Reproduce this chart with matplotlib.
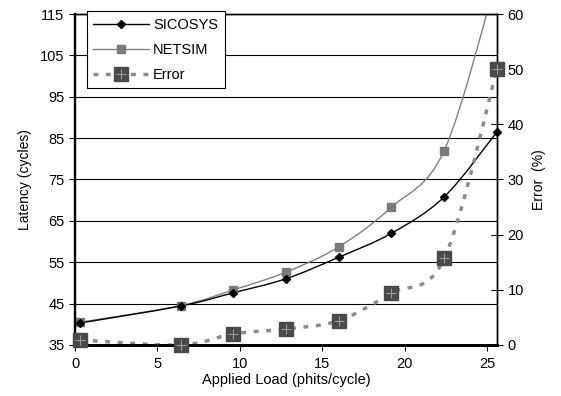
import numpy as np
import matplotlib.pyplot as plt
from matplotlib.path import Path
from matplotlib.patches import PathPatch
from matplotlib.lines import Line2D

plt.rcParams['font.family'] = ['Liberation Sans', 'DejaVu Sans']

# Data
load = [0.32, 6.4, 9.6, 12.8, 16.0, 19.2, 22.4, 25.6]
sicosys = [40.3, 44.4, 47.6, 51.0, 56.2, 62.0, 70.8, 86.5]
netsim = [40.5, 44.5, 48.3, 52.6, 58.7, 68.3, 82.0, 124.0]
error = [0.9, 0.0, 2.0, 2.9, 4.4, 9.4, 15.7, 50.0]

left_ticks = [35, 45, 55, 65, 75, 85, 95, 105, 115]
right_ticks = [0, 10, 20, 30, 40, 50, 60]
x_ticks = [0, 5, 10, 15, 20, 25]


def smooth_path(x, y):
    # smoothed line like a spreadsheet chart: cubic Bezier through the points
    pts = np.column_stack([x, y])
    n = len(pts)
    verts = [pts[0]]
    codes = [Path.MOVETO]
    for i in range(n - 1):
        p0 = pts[max(i - 1, 0)]
        p1 = pts[i]
        p2 = pts[i + 1]
        p3 = pts[min(i + 2, n - 1)]
        verts += [p1 + (p2 - p0) / 6, p2 - (p3 - p1) / 6, p2]
        codes += [Path.CURVE4] * 3
    return Path(verts, codes)


fig = plt.figure(figsize=(5.61, 3.96), dpi=100)
ax = fig.add_axes([0.1337, 0.129, 0.7522, 0.8356])
ax2 = ax.twinx()

ax.set_xlim(0, 25.6)
ax.set_ylim(35, 115)
ax2.set_ylim(0, 60)

ax.set_yticks(left_ticks)
ax2.set_yticks(right_ticks)
ax.set_xticks(x_ticks)
ax.grid(axis='y', color='black', lw=0.8)
ax.set_axisbelow(True)

# NETSIM
ax.add_patch(PathPatch(smooth_path(load, netsim), fill=False, ec='#808080', lw=1.0))
ax.plot(load, netsim, ls='none', marker='s', ms=6, color='#7a7a7a', clip_on=True)

# SICOSYS
ax.add_patch(PathPatch(smooth_path(load, sicosys), fill=False, ec='black', lw=1.0))
ax.plot(load, sicosys, ls='none', marker='D', ms=4.5, color='black', clip_on=False)

# Error
ax2.add_patch(PathPatch(smooth_path(load, error), fill=False, ec='#8c8c8c', lw=2.5,
                        linestyle=(0, (1.4, 2.2)), capstyle='butt'))
ax2.plot(load, error, ls='none', marker='s', ms=10, color='#4a4a4a', clip_on=False, zorder=5)
ax2.plot(load, error, ls='none', marker='+', ms=7, mew=0.8, color='#9a9a9a', clip_on=False, zorder=6)

for a in (ax, ax2):
    a.spines['top'].set_linewidth(1.0)
    a.spines['bottom'].set_linewidth(2.0)
    a.spines['left'].set_linewidth(1.6)
    a.spines['right'].set_linewidth(1.0)

ax.tick_params(axis='y', direction='out', length=4, labelsize=10.5)
ax.tick_params(axis='x', direction='out', length=4, labelsize=10.5, pad=5)
ax2.tick_params(axis='y', direction='inout', length=8, labelsize=10.5)

ax.set_xlabel('Applied Load (phits/cycle)', fontsize=10.5, labelpad=1)
ax.set_ylabel('Latency (cycles)', fontsize=10, labelpad=6)
ax2.set_ylabel('Error  (%)', fontsize=10, labelpad=6)

h1 = Line2D([], [], color='black', lw=1.0, marker='D', ms=4.5)
h2 = Line2D([], [], color='#808080', lw=1.0, marker='s', ms=6, mfc='#7a7a7a', mec='#7a7a7a')
h3a = Line2D([], [], color='#8c8c8c', lw=2.5, ls=(0, (1.4, 2.2)), marker='s', ms=10,
             mfc='#4a4a4a', mec='#4a4a4a')
h3b = Line2D([], [], ls='none', marker='+', ms=7, mew=0.8, color='#9a9a9a')
leg = ax2.legend([h1, h2, (h3a, h3b)], ['SICOSYS', 'NETSIM', 'Error'],
                 loc='upper left', bbox_to_anchor=(0.028, 1.008), fontsize=10.5,
                 fancybox=False, framealpha=1, edgecolor='black', handlelength=3.8,
                 borderpad=0.45, labelspacing=0.75, handletextpad=0.3,
                 borderaxespad=0)
leg.get_frame().set_linewidth(0.8)

fig.savefig('out.png', dpi=100)
